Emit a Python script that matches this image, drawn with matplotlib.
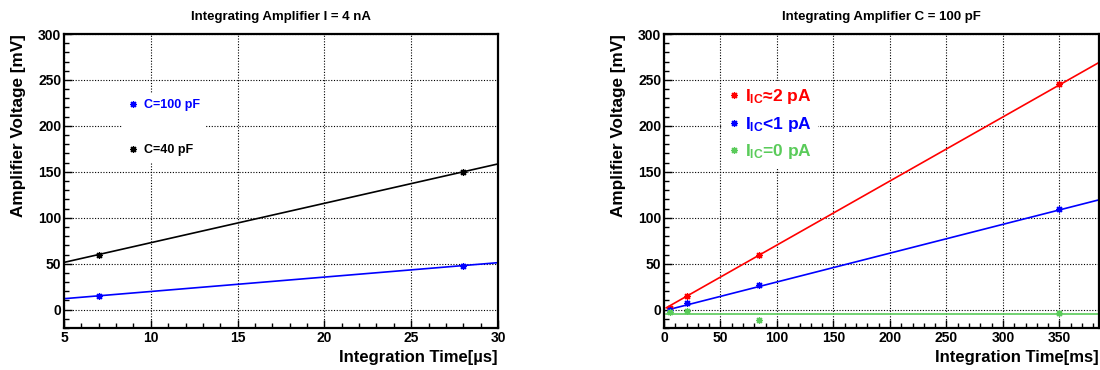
import numpy as np
import matplotlib
matplotlib.use("Agg")
import matplotlib.pyplot as plt
from matplotlib.ticker import MultipleLocator

plt.rcParams["font.family"] = ["Liberation Sans", "DejaVu Sans"]
plt.rcParams["font.weight"] = "bold"
plt.rcParams["mathtext.fontset"] = "custom"
plt.rcParams["mathtext.rm"] = "Liberation Sans:bold"
plt.rcParams["mathtext.bf"] = "Liberation Sans:bold"
plt.rcParams["mathtext.it"] = "Liberation Sans:bold"

# --- left: I = 4 nA, two capacitors
t_us = [7, 28]
v_c100 = [15, 48]
v_c40 = [60, 150]
fit_t_us = [5, 30]
fit_c100 = [11.9, 51.1]
fit_c40 = [51.4, 158.6]

# --- right: C = 100 pF, three input currents
t_ms = [5, 20, 84, 350]
v_2pA = [2, 15, 60, 246]
v_1pA = [0, 7, 27, 109]
v_0pA = [-3, -2, -11, -4]
fit_t_2pA = [2, 385]
fit_2pA = [2.0, 269.0]
fit_t_1pA = [4, 385]
fit_1pA = [0.0, 119.5]
fit_t_0pA = [2, 385]
fit_0pA = [-5, -5]

GREEN = "#5acb5a"
star = (8, 2, 0)

fig = plt.figure(figsize=(11, 3.7), dpi=100)
axL = fig.add_axes([64 / 1100, 1 - 328 / 370, 434 / 1100, 294 / 370])
axR = fig.add_axes([664 / 1100, 1 - 328 / 370, 435 / 1100, 294 / 370])


def style(ax, xmaj, xmin):
    ax.xaxis.set_major_locator(MultipleLocator(xmaj))
    ax.xaxis.set_minor_locator(MultipleLocator(xmin))
    ax.yaxis.set_major_locator(MultipleLocator(50))
    ax.yaxis.set_minor_locator(MultipleLocator(10))
    ax.tick_params(which="both", direction="in", top=False, right=False,
                   width=1.0, labelsize=10, pad=2)
    ax.tick_params(which="major", length=6)
    ax.tick_params(which="minor", length=3.5)
    for lab in ax.get_xticklabels() + ax.get_yticklabels():
        lab.set_fontweight("bold")
    ax.grid(True, which="major", color="black", linestyle=(0, (1, 1.5)), linewidth=0.8)
    ax.set_axisbelow(True)
    for s in ax.spines.values():
        s.set_linewidth(1.6)
    ax.set_ylabel("Amplifier Voltage [mV]", fontsize=12.3, fontweight="bold", loc="top")
    ax.yaxis.set_label_coords(-0.087, 1.0)


mk = dict(ls="none", marker=star, ms=5, mew=0.9)

# left panel
axL.plot(fit_t_us, fit_c40, color="black", lw=1.2)
axL.plot(fit_t_us, fit_c100, color="blue", lw=1.2)
p40, = axL.plot(t_us, v_c40, color="black", label="C=40 pF", **mk)
p100, = axL.plot(t_us, v_c100, color="blue", label="C=100 pF", **mk)
axL.set_xlim(5, 30)
axL.set_ylim(-20, 300)
style(axL, 5, 1)
axL.set_title("Integrating Amplifier I = 4 nA", fontsize=9.5, fontweight="bold", pad=10)
axL.set_xlabel("Integration Time[µs]", fontsize=12, fontweight="bold", loc="right")
axL.xaxis.set_label_coords(1.0, -0.075)
axL.legend(handles=[p100, p40], loc="upper left", bbox_to_anchor=(0.134, 0.80),
           borderaxespad=0, borderpad=0.5, handlelength=0.8, handletextpad=0.45,
           labelspacing=2.65, prop={"weight": "bold", "size": 9},
           labelcolor=["blue", "black"], frameon=True, fancybox=False,
           facecolor="white", edgecolor="none", framealpha=1)

# right panel
axR.plot(fit_t_2pA, fit_2pA, color="red", lw=1.2)
axR.plot(fit_t_1pA, fit_1pA, color="blue", lw=1.2)
axR.plot(fit_t_0pA, fit_0pA, color=GREEN, lw=1.2)
r, = axR.plot(t_ms, v_2pA, color="red", label=r"I$_{\mathbf{IC}}$≈2 pA", **mk)
b, = axR.plot(t_ms, v_1pA, color="blue", label=r"I$_{\mathbf{IC}}$<1 pA", **mk)
g, = axR.plot(t_ms, v_0pA, color=GREEN, label=r"I$_{\mathbf{IC}}$=0 pA", **mk)
axR.set_xlim(0, 385)
axR.set_ylim(-20, 300)
style(axR, 50, 10)
axR.set_title("Integrating Amplifier C = 100 pF", fontsize=9.5, fontweight="bold", pad=10)
axR.set_xlabel("Integration Time[ms]", fontsize=12, fontweight="bold", loc="right")
axR.xaxis.set_label_coords(1.0, -0.075)
axR.legend(handles=[r, b, g], loc="upper left", bbox_to_anchor=(0.133, 0.84),
           borderaxespad=0, borderpad=0.35, handlelength=0.65, handletextpad=0.33,
           labelspacing=0.5, prop={"weight": "bold", "size": 12.5},
           labelcolor=["red", "blue", GREEN], frameon=True, fancybox=False,
           facecolor="white", edgecolor="none", framealpha=1)

fig.savefig("out.png", dpi=100)
